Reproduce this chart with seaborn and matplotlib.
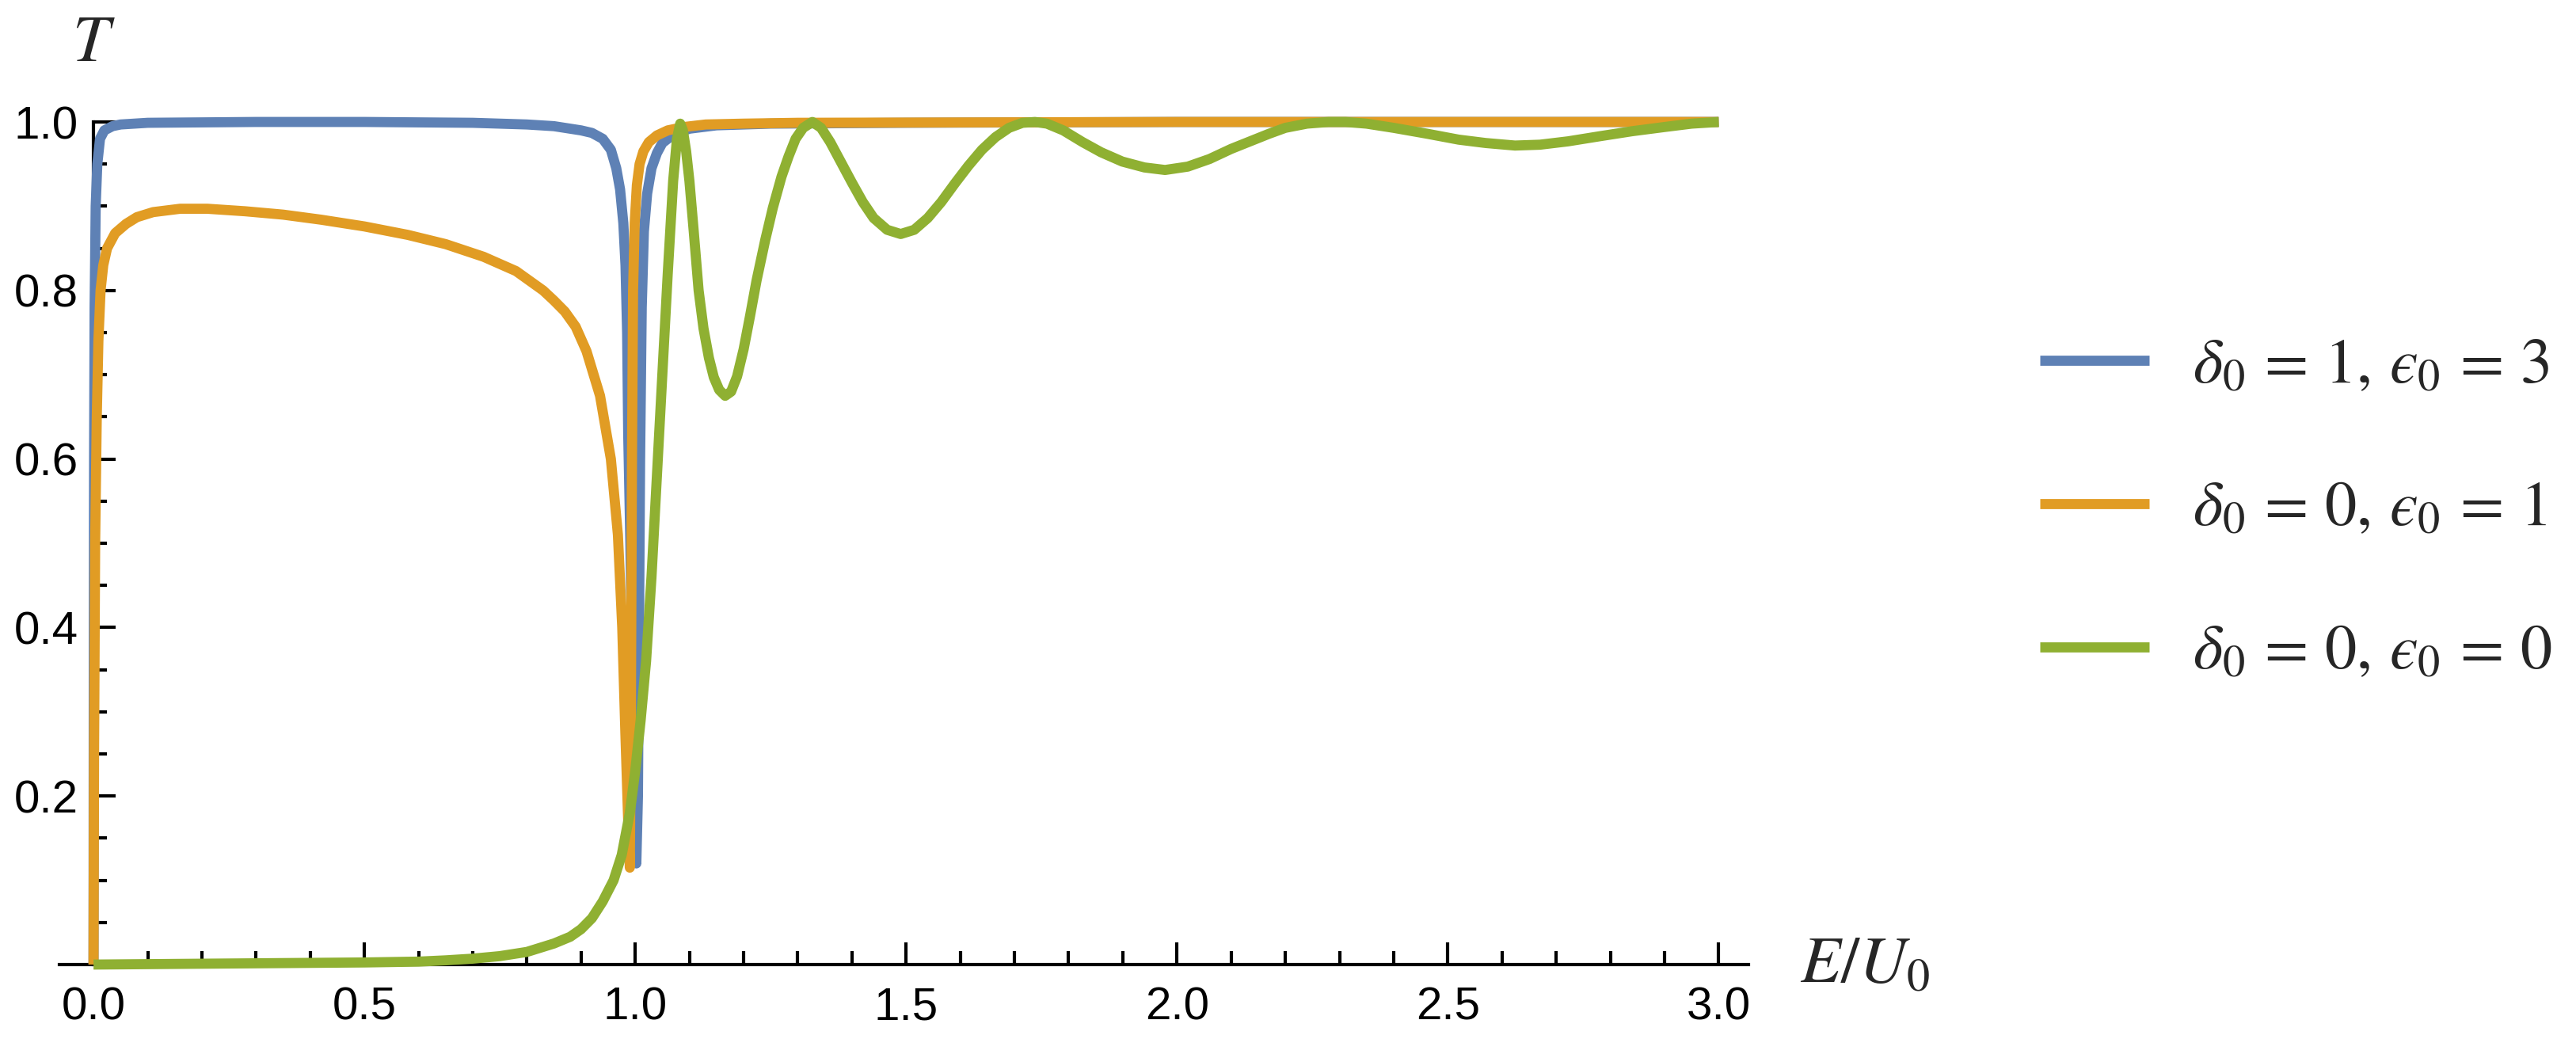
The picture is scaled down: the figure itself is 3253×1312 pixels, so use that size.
import numpy as np
import pandas as pd
import seaborn as sns
import matplotlib
matplotlib.use("Agg")
import matplotlib.pyplot as plt
from matplotlib.ticker import FixedLocator, StrMethodFormatter

# curvas (E/U0 -> T)
E_blue = [0.0, 0.0005, 0.001, 0.002, 0.004, 0.007, 0.012, 0.02, 0.035, 0.05,
          0.1, 0.3, 0.5, 0.7, 0.8, 0.85, 0.9, 0.92, 0.94, 0.955,
          0.965, 0.972, 0.978, 0.982, 0.985, 0.987, 0.991, 0.994, 0.998, 1.002,
          1.005, 1.007, 1.009, 1.012, 1.016, 1.022, 1.03, 1.04, 1.05, 1.07,
          1.1, 1.15, 1.25, 1.5, 2.0, 2.5, 3.0]
T_blue = [0.0, 0.4, 0.6, 0.78, 0.9, 0.95, 0.98, 0.99, 0.995, 0.997,
          0.999, 1.0, 1.0, 0.999, 0.997, 0.995, 0.99, 0.987, 0.98, 0.967,
          0.945, 0.92, 0.88, 0.83, 0.75, 0.63, 0.5, 0.37, 0.22, 0.12,
          0.2, 0.4, 0.6, 0.78, 0.87, 0.915, 0.945, 0.963, 0.975, 0.985,
          0.992, 0.996, 0.998, 0.999, 1.0, 1.0, 1.0]

E_orange = [0.0, 0.001, 0.003, 0.006, 0.009, 0.013, 0.018, 0.025, 0.04, 0.06,
            0.08, 0.11, 0.16, 0.21, 0.28, 0.35, 0.42, 0.5, 0.58, 0.65,
            0.72, 0.78, 0.83, 0.85, 0.87, 0.89, 0.91, 0.935, 0.955, 0.968,
            0.976, 0.982, 0.987, 0.99, 0.992, 0.994, 0.996, 0.999, 1.003, 1.008,
            1.015, 1.025, 1.04, 1.06, 1.09, 1.13, 1.2, 1.3, 2.0, 3.0]
T_orange = [0.0, 0.25, 0.5, 0.65, 0.74, 0.8, 0.83, 0.85, 0.868, 0.879,
            0.887, 0.893, 0.897, 0.897, 0.894, 0.89, 0.884, 0.876, 0.866, 0.855,
            0.84, 0.823, 0.8, 0.788, 0.775, 0.757, 0.728, 0.675, 0.6, 0.51,
            0.4, 0.27, 0.17, 0.115, 0.3, 0.6, 0.8, 0.88, 0.925, 0.95,
            0.965, 0.976, 0.984, 0.99, 0.994, 0.997, 0.998, 0.999, 1.0, 1.0]

E_green = [0.0, 0.1, 0.2, 0.3, 0.4, 0.5, 0.6, 0.65, 0.7, 0.75,
           0.8, 0.85, 0.88, 0.9, 0.92, 0.94, 0.96, 0.975, 0.99, 1.0,
           1.01, 1.02, 1.03, 1.04, 1.05, 1.06, 1.07, 1.077, 1.083, 1.088,
           1.094, 1.1, 1.108, 1.117, 1.126, 1.136, 1.145, 1.155, 1.166, 1.177,
           1.188, 1.2, 1.212, 1.224, 1.24, 1.254, 1.27, 1.283, 1.296, 1.31,
           1.327, 1.343, 1.36, 1.38, 1.4, 1.42, 1.44, 1.465, 1.49, 1.515,
           1.54, 1.565, 1.59, 1.615, 1.64, 1.665, 1.69, 1.715, 1.738, 1.76,
           1.79, 1.826, 1.86, 1.899, 1.94, 1.978, 2.02, 2.06, 2.1, 2.135,
           2.17, 2.2, 2.24, 2.28, 2.311, 2.35, 2.4, 2.462, 2.52, 2.57,
           2.624, 2.67, 2.722, 2.78, 2.84, 2.9, 2.95, 3.0]
T_green = [0.0, 0.0005, 0.001, 0.0015, 0.002, 0.0025, 0.0035, 0.005, 0.007, 0.01,
           0.015, 0.025, 0.033, 0.042, 0.055, 0.075, 0.1, 0.13, 0.18, 0.23,
           0.29, 0.36, 0.46, 0.58, 0.7, 0.82, 0.93, 0.98, 0.998, 0.99,
           0.965, 0.93, 0.87, 0.8, 0.755, 0.72, 0.697, 0.682, 0.675, 0.68,
           0.698, 0.73, 0.77, 0.812, 0.86, 0.898, 0.935, 0.959, 0.98, 0.993,
           1.0, 0.993, 0.976, 0.952, 0.928, 0.905, 0.886, 0.872, 0.867, 0.872,
           0.886, 0.905, 0.927, 0.948, 0.967, 0.982, 0.993, 0.999, 1.0, 0.998,
           0.99, 0.976, 0.964, 0.953, 0.946, 0.943, 0.947, 0.956, 0.968, 0.977,
           0.986, 0.993, 0.998, 1.0, 1.0, 0.998, 0.993, 0.986, 0.979, 0.975,
           0.972, 0.973, 0.977, 0.983, 0.989, 0.994, 0.998, 1.0]

labels = ["$\\delta_0\\,=\\,1,\\,\u03f5_0\\,=\\,3$",
          "$\\delta_0\\,=\\,0,\\,\u03f5_0\\,=\\,1$",
          "$\\delta_0\\,=\\,0,\\,\u03f5_0\\,=\\,0$"]
cores = ["#5E81B5", "#E19C24", "#8FB032"]

x_ticks = [0.0, 0.5, 1.0, 1.5, 2.0, 2.5, 3.0]
y_ticks = [0.2, 0.4, 0.6, 0.8, 1.0]

sns.set_style("white")
plt.rcParams["font.family"] = ["Liberation Sans", "DejaVu Sans"]
plt.rcParams["mathtext.fontset"] = "stix"

W, H = 3253, 1312
fig = plt.figure(figsize=(W / 100, H / 100), dpi=100)
ax = fig.add_axes([75 / W, (H - 1218) / H, 2133 / W, 1064 / H])

lw = 9.2
series = [(E_blue, T_blue), (E_orange, T_orange), (E_green, T_green)]
for (xs, ys), lab, cor in zip(series, labels, cores):
    df = pd.DataFrame({"E": xs, "T": ys})
    sns.lineplot(data=df, x="E", y="T", color=cor, linewidth=lw, label=lab,
                 clip_on=False, solid_capstyle="butt", ax=ax)

ax.set_xlim(-0.063, 3.055)
ax.set_ylim(0, 1.0)

# eixos estilo Mathematica (cruzando na origem)
for s in ["top", "right"]:
    ax.spines[s].set_visible(False)
ax.spines["left"].set_position(("data", 0))
ax.spines["left"].set_bounds(0, 1.0)
for s in ["left", "bottom"]:
    ax.spines[s].set_color("black")
    ax.spines[s].set_linewidth(3.0)
    ax.spines[s].set_zorder(1)

ax.xaxis.set_major_locator(FixedLocator(x_ticks))
ax.xaxis.set_minor_locator(FixedLocator([v / 10 for v in range(1, 31) if v % 5 != 0]))
ax.yaxis.set_major_locator(FixedLocator(y_ticks))
ax.yaxis.set_minor_locator(FixedLocator([v / 20 for v in range(1, 20) if v % 4 != 0]))
ax.xaxis.set_major_formatter(StrMethodFormatter("{x:.1f}"))
ax.yaxis.set_major_formatter(StrMethodFormatter("{x:.1f}"))
ax.tick_params(which="both", direction="in", color="black", width=3.0,
               bottom=True, left=True, top=False, right=False,
               labelsize=42, labelcolor="black")
ax.tick_params(which="major", length=20)
ax.tick_params(which="minor", length=12)
ax.tick_params(axis="x", which="major", pad=20)
ax.tick_params(axis="y", which="major", pad=14)

ax.set_xlabel(r"$E/U_0$", fontsize=60, ha="left", va="baseline")
ax.xaxis.set_label_coords((2273 - 75) / 2133, (1218 - 1240) / 1064)
ax.set_ylabel(r"$T$", fontsize=60, rotation=0, ha="center", va="baseline")
ax.yaxis.set_label_coords((118 - 75) / 2133, (1218 - 77) / 1064)

leg = ax.legend(loc="center left", bbox_to_anchor=(2576 / W, 1 - 643 / H),
                bbox_transform=fig.transFigure, frameon=False, fontsize=58,
                handlelength=1.71, handletextpad=0.68, labelspacing=1.3,
                borderpad=0, borderaxespad=0)
for h in leg.get_lines():
    h.set_linewidth(lw)
    h.set_solid_capstyle("butt")

fig.savefig("out.png", dpi=100, facecolor="white")
